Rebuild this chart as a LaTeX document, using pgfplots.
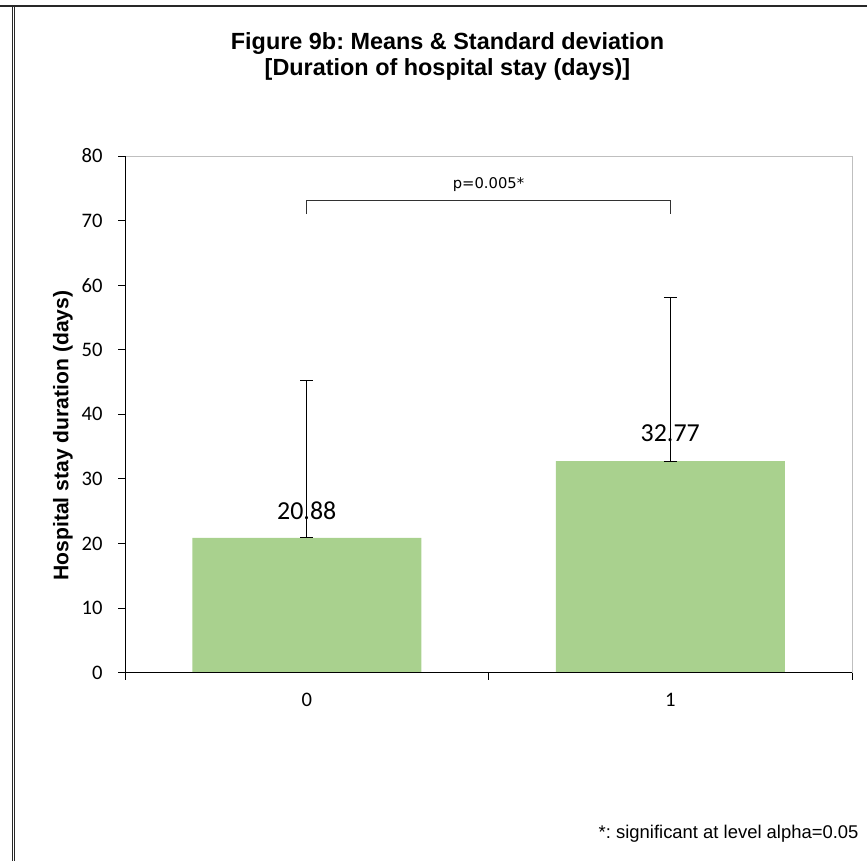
\documentclass[border=0pt]{standalone}
\usepackage{pgfplots}
\pgfplotsset{compat=1.18}
\usepackage{fontspec}
\setmainfont{Liberation Sans}
\newfontfamily\carlito{Carlito}
\newfontfamily\dejavu{DejaVu Sans}
\definecolor{barg}{RGB}{169,209,142}
\definecolor{framec}{RGB}{40,40,40}
\definecolor{boxgray}{RGB}{191,191,191}
\definecolor{brk}{RGB}{50,50,50}
\frenchspacing
\begin{document}
\begin{tikzpicture}
\useasboundingbox (0bp,0bp) rectangle (867bp,861bp);
\draw[line width=2bp, color=framec] (0bp,855bp) -- (867bp,855bp);
\draw[line width=1bp, color=framec] (12bp,855bp) -- (12bp,0bp);
\draw[line width=1bp, color=framec] (14.5bp,855bp) -- (14.5bp,0bp);
\node[font=\bfseries\fontsize{23.5}{27}\selectfont] at (447.5bp,817bp) {Figure 9b: Means \& Standard deviation};
\node[font=\bfseries\fontsize{23.5}{27}\selectfont] at (447.5bp,792bp) {[Duration of hospital stay (days)]};
\node[font=\fontsize{18.5}{22}\selectfont, anchor=east] at (862bp,27bp) {*: significant at level alpha=0.05};
\begin{axis}[
  at={(125bp,188.3bp)}, anchor=south west,
  width=727bp, height=516.7bp, scale only axis,
  xmin=-0.5, xmax=1.5, ymin=0, ymax=80,
  axis line style={boxgray, line width=1bp},
  ytick={0,10,...,80}, ytick pos=left,
  xtick={0,1}, xticklabels={0,1}, xtick pos=bottom,
  minor xtick={-0.5,0.5,1.5},
  major x tick style={draw=none},
  minor x tick style={black, line width=1bp},
  y tick style={black, line width=1bp},
  tick align=outside,
  major tick length=7bp, minor tick length=7bp,
  /pgf/number format/assume math mode=true,
  tick label style={font=\carlito\fontsize{20.7}{24}\selectfont},
  yticklabel style={xshift=-12bp},
  xticklabel style={yshift=-10bp},
  ylabel={Hospital stay duration (days)},
  ylabel style={font=\bfseries\fontsize{21.2}{24}\selectfont, at={(axis description cs:-0.0853,0.459)}, anchor=center, rotate=0},
  clip=false,
  after end axis/.code={
    \draw[black, line width=1bp] (rel axis cs:0,1) -- (rel axis cs:0,0) -- (rel axis cs:1,0);
  },
]
\addplot[ybar, bar width=229bp, fill=barg, draw=none,
  nodes near coords={\pgfmathprintnumber[fixed,fixed zerofill,precision=2,assume math mode=true]{\pgfplotspointmeta}},
  nodes near coords style={font=\carlito\fontsize{26}{30}\selectfont, anchor=center, yshift=27.5bp, text=black},
  error bars/.cd, y dir=both, y explicit,
  error bar style={black, line width=1bp},
  error mark options={black, mark size=6.5bp, line width=1bp, rotate=90}]
  table[x=x, y=y, y error plus=ep, y error minus=em] {
x y ep em
0 20.88 24.4 0
1 32.77 25.3 0
};
\addplot[brk, line width=1.4bp, mark=none] coordinates {(0,71.0) (0,73.07) (1,73.07) (1,71.0)};
\node[font=\dejavu\fontsize{14.8}{17}\selectfont] at (axis cs:0.5,75.6) {p=0.005*};
\end{axis}
\end{tikzpicture}
\end{document}
